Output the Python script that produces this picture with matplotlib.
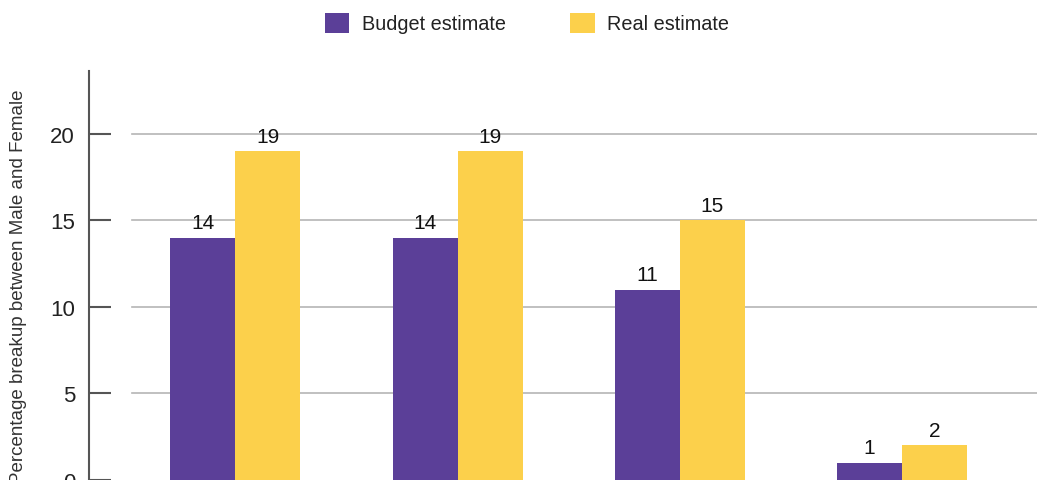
import matplotlib
matplotlib.use("Agg")
import matplotlib.pyplot as plt
import numpy as np

plt.rcParams['font.family'] = ['Liberation Sans', 'DejaVu Sans']

groups = [0, 1, 2, 3]
budget_estimate = [14, 14, 11, 1]
real_estimate = [19, 19, 15, 2]
series_names = ["Budget estimate", "Real estimate"]
yticks = [0, 5, 10, 15, 20]
ylabel = "Percentage breakup between Male and Female"

purple = "#5b3f98"
yellow = "#fcd04b"

W, H = 1037, 481
fig = plt.figure(figsize=(W / 100, H / 100), dpi=100)
ax = fig.add_axes([89 / W, 0, (W - 89) / W, (481 - 72) / 481])

x = np.array(groups, dtype=float)
bw = 0.2925
b1 = ax.bar(x - bw / 2, budget_estimate, bw, color=purple, label=series_names[0], zorder=3)
b2 = ax.bar(x + bw / 2, real_estimate, bw, color=yellow, label=series_names[1], zorder=3)
for bars in (b1, b2):
    ax.bar_label(bars, padding=4, fontsize=15, color="#111111")

ax.set_xlim(-0.659, 3.607)
ax.set_ylim(0, 23.64)
ax.set_yticks(yticks)
ax.set_xticks([])
for t in yticks[1:]:
    ax.axhline(t, xmin=0.045, xmax=1, color="#b5b5b5", lw=1.2, zorder=1)

for s in ("top", "right", "bottom"):
    ax.spines[s].set_visible(False)
ax.spines["left"].set_color("#555555")
ax.spines["left"].set_linewidth(1.5)
ax.tick_params(axis="y", direction="in", length=15.5, width=1.5, color="#555555",
               labelsize=16, labelcolor="#222222", pad=10)

ax.set_ylabel(ylabel, fontsize=13.5, color="#333333")
ax.yaxis.set_label_coords(-0.0654, 0.475)

fig.legend(loc="center", bbox_to_anchor=(527 / W, 1 - 24 / H), ncol=2, frameon=False,
           fontsize=14.3, handlelength=1.21, handleheight=1.21, handletextpad=0.65,
           columnspacing=3.27, labelcolor="#222222")

fig.savefig("out.png", dpi=100)
